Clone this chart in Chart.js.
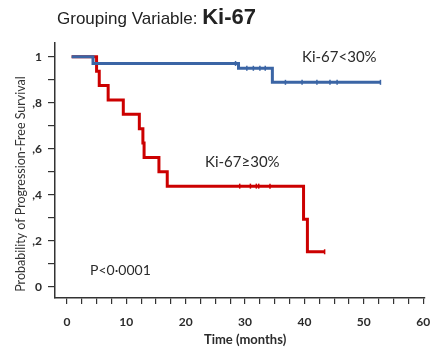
<!DOCTYPE html>
<html>
<head>
<meta charset="utf-8">
<script src="https://cdn.jsdelivr.net/npm/chart.js@4.4.0/dist/chart.umd.min.js"></script>
<style>
    body { margin: 0; background: #fff; }
    canvas { display: block; }
</style>
</head>
<body>
<canvas id="kmChart" width="432" height="347"></canvas>
<script>
// Ki-67 >= 30% (red) - times in months, survival after each event
const highTimes = [0.8, 5.0, 5.45, 6.95, 9.5, 12.2, 12.8, 13.0, 15.5, 16.9, 39.85, 40.5, 43.4];
const highSurv  = [1, 0.9375, 0.875, 0.8125, 0.75, 0.6875, 0.625, 0.5625, 0.5, 0.4375, 0.293, 0.152, 0.152];
const highCensorTimes = [29.1, 30.9, 31.9, 32.3, 34.2, 43.4];
const highCensorSurv  = [0.4375, 0.4375, 0.4375, 0.4375, 0.4375, 0.152];

// Ki-67 < 30% (blue)
const lowTimes = [0.8, 4.4, 28.9, 34.6, 52.8];
const lowSurv  = [1, 0.971, 0.95, 0.889, 0.889];
const lowCensorTimes = [28.4, 30.3, 31.4, 32.5, 33.4, 36.8, 39.6, 42.1, 44.3, 45.5, 52.8];
const lowCensorSurv  = [0.971, 0.95, 0.95, 0.95, 0.95, 0.889, 0.889, 0.889, 0.889, 0.889, 0.889];

// axis ticks
const xTickValues = [0, 2.5, 5, 7.5, 10, 12.5, 15, 17.5, 20, 22.5, 25, 27.5, 30, 32.5, 35, 37.5, 40, 42.5, 45, 47.5, 50, 52.5, 55, 57.5, 60];
const xLabelValues = [0, 10, 20, 30, 40, 50, 60];
const xTickLabels = ["0", "10", "20", "30", "40", "50", "60"];
const yTickValues = [0, 0.1, 0.2, 0.3, 0.4, 0.5, 0.6, 0.7, 0.8, 0.9, 1];
const yLabelValues = [0, 0.2, 0.4, 0.6, 0.8, 1];
const yTickLabels = ["0", ",2", ",4", ",6", ",8", "1"];

const BLUE = "#3b65a5";
const RED = "#cc0000";
const TEXT = "#2b2b2b";

function toPoints(xs, ys) {
    return xs.map((x, i) => ({x: x, y: ys[i]}));
}

function labelFor(value, values, labels) {
    for (let i = 0; i < values.length; i++) {
        if (Math.abs(values[i] - value) < 1e-6) return labels[i];
    }
    return "";
}

const textPlugin = {
    id: "kmText",
    afterDraw(chart) {
        const ctx = chart.ctx;
        const xs = chart.scales.x;
        ctx.save();
        ctx.fillStyle = "#222";
        ctx.textBaseline = "alphabetic";
        ctx.textAlign = "left";

        // title
        ctx.font = "17px 'Liberation Sans', Arial, sans-serif";
        const part1 = "Grouping Variable: ";
        ctx.fillText(part1, 57, 24);
        const w = ctx.measureText(part1).width;
        ctx.font = "bold 22px 'Liberation Sans', Arial, sans-serif";
        ctx.fillText("Ki-67", 57 + w, 24);

        // group labels
        ctx.fillStyle = TEXT;
        ctx.textBaseline = "middle";
        ctx.font = "15px Lato, sans-serif";
        ctx.fillText("Ki-67<30%", 302, 57);
        ctx.fillText("Ki-67≥30%", 205, 162);
        ctx.font = "14px Lato, sans-serif";
        ctx.fillText("P<0·0001", 90, 270);

        // x axis title
        ctx.textAlign = "center";
        ctx.font = "bold 13px Lato, sans-serif";
        ctx.fillText("Time (months)", xs.getPixelForValue(30), 340);

        // y axis title
        ctx.translate(21, 184);
        ctx.rotate(-Math.PI / 2);
        ctx.font = "12.5px Lato, sans-serif";
        ctx.fillStyle = "#333";
        ctx.fillText("Probability of Progression-Free Survival", 0, 0);
        ctx.restore();
    }
};

new Chart(document.getElementById("kmChart"), {
    type: "line",
    data: {
        datasets: [{
                label: "Ki-67<30%",
                data: toPoints(lowTimes, lowSurv),
                borderColor: BLUE,
                borderWidth: 3,
                stepped: true,
                pointRadius: 0,
                fill: false,
                order: 1
            }, {
                label: "Ki-67<30% censored",
                data: toPoints(lowCensorTimes, lowCensorSurv),
                showLine: false,
                pointStyle: "line",
                rotation: 90,
                pointRadius: 2.5,
                pointBorderWidth: 1.5,
                pointBorderColor: BLUE,
                order: 0
            }, {
                label: "Ki-67≥30%",
                data: toPoints(highTimes, highSurv),
                borderColor: RED,
                borderWidth: 3,
                stepped: true,
                pointRadius: 0,
                fill: false,
                order: 3
            }, {
                label: "Ki-67≥30% censored",
                data: toPoints(highCensorTimes, highCensorSurv),
                showLine: false,
                pointStyle: "line",
                rotation: 90,
                pointRadius: 2.5,
                pointBorderWidth: 1.5,
                pointBorderColor: RED,
                order: 2
            }]
    },
    options: {
        responsive: false,
        animation: false,
        layout: {padding: {top: 43, right: 0, bottom: 0, left: 0}},
        plugins: {
            legend: {display: false},
            tooltip: {enabled: false},
            title: {display: false}
        },
        scales: {
            x: {
                type: "linear",
                min: -2,
                max: 60.3,
                afterFit: scale => {
                    scale.height = 49;
                    scale.paddingLeft = 0;
                    scale.paddingRight = 7;
                },
                afterBuildTicks: scale => { scale.ticks = xTickValues.map(v => ({value: v})); },
                grid: {drawOnChartArea: false, tickLength: 6, color: "#333", lineWidth: 1.2},
                border: {display: true, color: "#333", width: 1.5},
                ticks: {
                    autoSkip: false,
                    maxRotation: 0,
                    padding: 11,
                    color: TEXT,
                    font: {family: "Lato", size: 12, weight: "bold"},
                    callback: v => labelFor(v, xLabelValues, xTickLabels)
                }
            },
            y: {
                min: -0.049,
                max: 1.06,
                afterFit: scale => {
                    scale.width = 55;
                    scale.paddingTop = 0;
                    scale.paddingBottom = 0;
                },
                afterBuildTicks: scale => { scale.ticks = yTickValues.map(v => ({value: v})); },
                grid: {drawOnChartArea: false, tickLength: 7, color: "#333", lineWidth: 1.2},
                border: {display: true, color: "#333", width: 1.5},
                ticks: {
                    autoSkip: false,
                    padding: 6,
                    color: TEXT,
                    font: {family: "Lato", size: 12, weight: "bold"},
                    callback: v => labelFor(v, yLabelValues, yTickLabels)
                }
            }
        }
    },
    plugins: [textPlugin]
});
</script>
</body>
</html>
